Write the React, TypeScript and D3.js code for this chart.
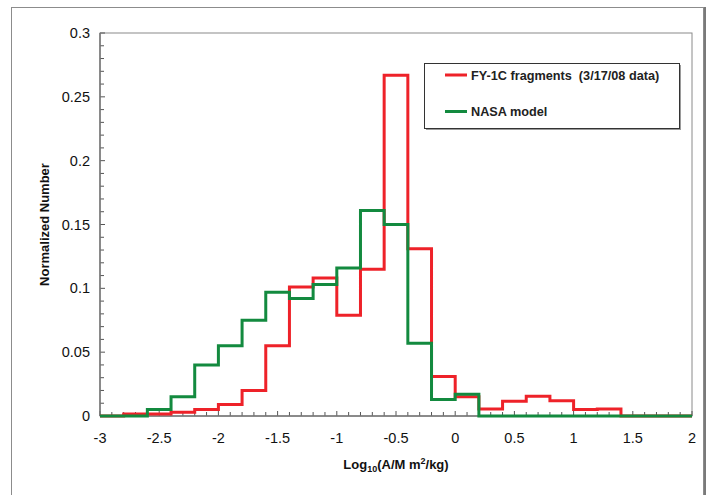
import React, { useEffect, useRef } from "react";
import * as d3 from "d3";

// bin left edges (width 0.2) and the closing edge
const binEdges = [-3, -2.8, -2.6, -2.4, -2.2, -2, -1.8, -1.6, -1.4, -1.2, -1, -0.8, -0.6, -0.4, -0.2, 0, 0.2, 0.4, 0.6, 0.8, 1, 1.2, 1.4, 1.6, 1.8, 2];
const fy1cValues = [0, 0.0015, 0.0015, 0.003, 0.005, 0.009, 0.02, 0.055, 0.101, 0.108, 0.079, 0.115, 0.267, 0.131, 0.031, 0.015, 0.0055, 0.0115, 0.0155, 0.012, 0.005, 0.0055, 0, 0, 0];
const nasaValues = [0, 0, 0.005, 0.015, 0.04, 0.055, 0.075, 0.097, 0.092, 0.103, 0.116, 0.161, 0.15, 0.057, 0.013, 0.017, 0, 0, 0, 0, 0, 0, 0, 0, 0];
const xTicks = [-3, -2.5, -2, -1.5, -1, -0.5, 0, 0.5, 1, 1.5, 2];
const yTicks = [0, 0.05, 0.1, 0.15, 0.2, 0.25, 0.3];
const seriesNames = ["FY-1C fragments  (3/17/08 data)", "NASA model"];
const seriesColors = ["#ee2229", "#138a3f"];

export default function App() {
  const svgRef = useRef<SVGSVGElement>(null);

  useEffect(() => {
    const svg = d3.select(svgRef.current);
    svg.selectAll("*").remove();

    const margin = { left: 100, top: 33, right: 15, bottom: 79 };
    const W = 707, H = 495;
    const x = d3.scaleLinear().domain([-3, 2]).range([margin.left, W - margin.right]);
    const y = d3.scaleLinear().domain([0, 0.3]).range([H - margin.bottom, margin.top]);
    const font = "'Liberation Sans', Arial, sans-serif";

    // outer frame
    svg.append("rect").attr("x", 11.5).attr("y", 7.5).attr("width", 692).attr("height", 520)
      .attr("fill", "none").attr("stroke", "#8c8c8c").attr("stroke-width", 1);
    svg.append("line").attr("x1", 705).attr("x2", 705).attr("y1", 7).attr("y2", H)
      .attr("stroke", "#7a7a7a").attr("stroke-width", 2);

    // plot border
    svg.append("rect").attr("x", x(-3)).attr("y", y(0.3)).attr("width", x(2) - x(-3)).attr("height", y(0) - y(0.3))
      .attr("fill", "none").attr("stroke", "#8a8a8a").attr("stroke-width", 1);

    // minor ticks
    const g = svg.append("g");
    d3.range(0, 51).forEach(i => {
      const v = -3 + i * 0.1;
      const major = i % 5 === 0;
      g.append("line").attr("x1", x(v)).attr("x2", x(v)).attr("y1", y(0)).attr("y2", y(0) - (major ? 5 : 4))
        .attr("stroke", "#555").attr("stroke-width", 1);
    });
    d3.range(0, 31).forEach(i => {
      const v = i * 0.01;
      const major = i % 5 === 0;
      g.append("line").attr("x1", x(-3)).attr("x2", x(-3) + (major ? 5 : 4)).attr("y1", y(v)).attr("y2", y(v))
        .attr("stroke", "#555").attr("stroke-width", 1);
    });

    // axis lines
    svg.append("line").attr("x1", x(-3)).attr("x2", x(-3)).attr("y1", y(0)).attr("y2", y(0.3))
      .attr("stroke", "#777").attr("stroke-width", 1.5);
    svg.append("line").attr("x1", x(-3)).attr("x2", x(2)).attr("y1", y(0)).attr("y2", y(0))
      .attr("stroke", "#777").attr("stroke-width", 1.5);

    // tick labels
    svg.append("g").selectAll("text").data(xTicks).join("text")
      .attr("x", d => x(d)).attr("y", y(0) + 27)
      .attr("text-anchor", "middle").attr("font-family", font).attr("font-size", 14.5).attr("fill", "#111")
      .text(d => String(d));
    svg.append("g").selectAll("text").data(yTicks).join("text")
      .attr("x", x(-3) - 10).attr("y", d => y(d) + 5)
      .attr("text-anchor", "end").attr("font-family", font).attr("font-size", 14.5).attr("fill", "#111")
      .text(d => String(d));

    // histograms
    const line = d3.line<[number, number]>().x(d => x(d[0])).y(d => y(d[1])).curve(d3.curveStepAfter);
    [fy1cValues, nasaValues].forEach((vals, k) => {
      const pts: [number, number][] = binEdges.map((e, i) => [e, i < vals.length ? vals[i] : vals[vals.length - 1]]);
      svg.append("path").attr("d", line(pts) as string).attr("fill", "none")
        .attr("stroke", seriesColors[k]).attr("stroke-width", 3).attr("stroke-linejoin", "miter");
    });

    // axis titles
    const xt = svg.append("text").attr("x", (x(-3) + x(2)) / 2).attr("y", 469)
      .attr("text-anchor", "middle").attr("font-family", font).attr("font-size", 13).attr("font-weight", "bold").attr("fill", "#111");
    xt.append("tspan").text("Log");
    xt.append("tspan").attr("font-size", 9).attr("dy", 3).text("10");
    xt.append("tspan").attr("dy", -3).text("(A/M m");
    xt.append("tspan").attr("font-size", 9).attr("dy", -5).text("2");
    xt.append("tspan").attr("dy", 5).text("/kg)");

    svg.append("text").attr("transform", `translate(49,${(y(0) + y(0.3)) / 2}) rotate(-90)`)
      .attr("text-anchor", "middle").attr("font-family", font).attr("font-size", 13).attr("font-weight", "bold").attr("fill", "#111")
      .text("Normalized Number");

    // legend
    const lg = svg.append("g");
    lg.append("rect").attr("x", 426).attr("y", 65).attr("width", 255).attr("height", 65).attr("fill", "#9a9a9a");
    lg.append("rect").attr("x", 424.5).attr("y", 63.5).attr("width", 255).attr("height", 65)
      .attr("fill", "#fff").attr("stroke", "#333").attr("stroke-width", 1);
    seriesNames.forEach((name, i) => {
      const ly = 75 + i * 36.5;
      lg.append("line").attr("x1", 445).attr("x2", 467).attr("y1", ly).attr("y2", ly)
        .attr("stroke", seriesColors[i]).attr("stroke-width", 3);
      lg.append("text").attr("x", 471).attr("y", ly + 4.5).attr("font-family", font).attr("font-size", 12.7)
        .attr("font-weight", "bold").attr("fill", "#222").attr("xml:space", "preserve").style("white-space", "pre").text(name);
    });
  }, []);

  return <svg ref={svgRef} width={707} height={495} style={{ position: "absolute", left: 0, top: 0, background: "#fff" }} />;
}
